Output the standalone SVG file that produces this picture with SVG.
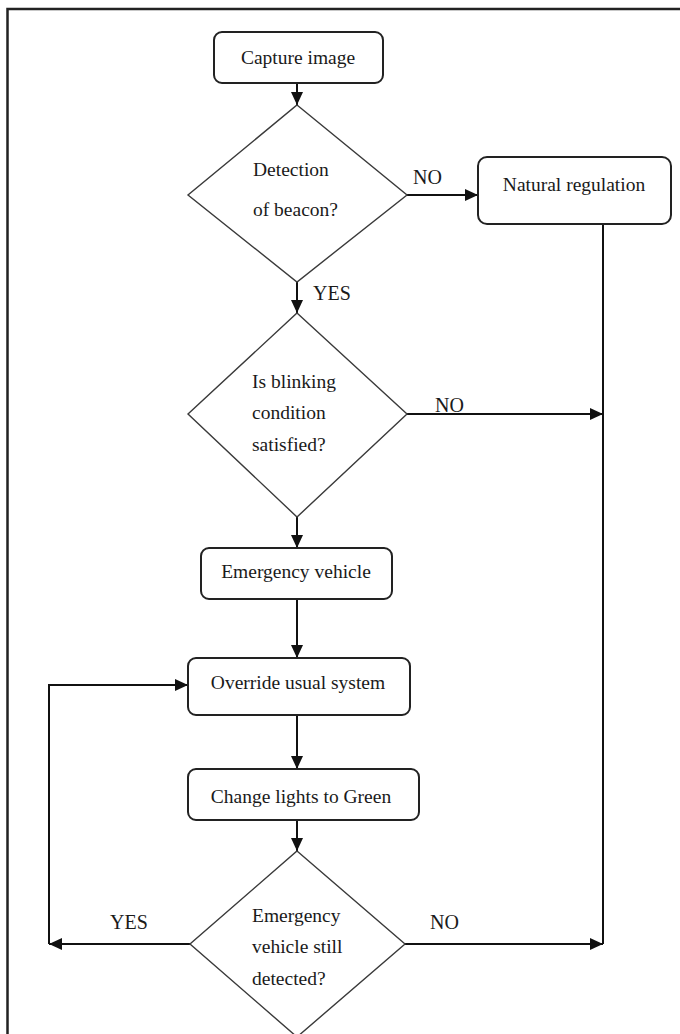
<svg xmlns="http://www.w3.org/2000/svg" width="680" height="1034" viewBox="0 0 680 1034">
<style>
  .box { fill: #ffffff; stroke: #222222; stroke-width: 2; }
  .dia { fill: #ffffff; stroke: #3a3a3a; stroke-width: 1.4; }
  .t { font-family: "Liberation Serif", "Times New Roman", serif; font-size: 19.5px; fill: #1a1a1a; }
  .c { text-anchor: middle; }
  .lbl { font-family: "Liberation Serif", "Times New Roman", serif; font-size: 20px; fill: #1a1a1a; }
  .con { fill: none; stroke: #111111; stroke-width: 2; }
  .frame { fill: none; stroke: #222222; stroke-width: 2.5; }
</style>
<defs>
  <marker id="arr" markerUnits="userSpaceOnUse" markerWidth="13" markerHeight="12" refX="13" refY="6" orient="auto">
    <path d="M0,0 L13,6 L0,12 z" fill="#111111"/>
  </marker>
</defs>
<rect x="0" y="0" width="680" height="1034" fill="#ffffff"/>
<path class="frame" d="M7.5,1034 V9 H680"/>

<g id="connectors">
  <path class="con" d="M297,83 V105" marker-end="url(#arr)"/>
  <path class="con" d="M407,195 H478" marker-end="url(#arr)"/>
  <path class="con" d="M297,282 V313" marker-end="url(#arr)"/>
  <path class="con" d="M603,224 V944"/>
  <path class="con" d="M407,414 H603" marker-end="url(#arr)"/>
  <path class="con" d="M297,517 V548" marker-end="url(#arr)"/>
  <path class="con" d="M297,599 V658" marker-end="url(#arr)"/>
  <path class="con" d="M297,715 V769" marker-end="url(#arr)"/>
  <path class="con" d="M297,820 V851" marker-end="url(#arr)"/>
  <path class="con" d="M190,944 H49" marker-end="url(#arr)"/>
  <path class="con" d="M49,944 V685 H188" marker-end="url(#arr)"/>
  <path class="con" d="M405,944 H603" marker-end="url(#arr)"/>
  <text class="lbl" x="413" y="184">NO</text>
  <text class="lbl" x="313" y="300">YES</text>
  <text class="lbl" x="435" y="412">NO</text>
  <text class="lbl" x="110" y="929">YES</text>
  <text class="lbl" x="430" y="929">NO</text>
</g>

<g id="capture">
  <rect class="box" x="214" y="32" width="169" height="51" rx="8"/>
  <text class="t c" x="298" y="64">Capture image</text>
</g>

<g id="detect">
  <polygon class="dia" points="297,105 407,195 297,282 188,195"/>
  <text class="t" x="253" y="176">Detection</text>
  <text class="t" x="253" y="216">of beacon?</text>
</g>

<g id="natural">
  <rect class="box" x="478" y="157" width="193" height="67" rx="9"/>
  <text class="t c" x="574" y="191">Natural regulation</text>
</g>

<g id="blink">
  <polygon class="dia" points="297,313 407,414 297,517 188,414"/>
  <text class="t" x="252" y="388">Is blinking</text>
  <text class="t" x="252" y="419">condition</text>
  <text class="t" x="252" y="451">satisfied?</text>
</g>

<g id="emergency">
  <rect class="box" x="201" y="548" width="191" height="51" rx="8"/>
  <text class="t c" x="296" y="578">Emergency vehicle</text>
</g>

<g id="override">
  <rect class="box" x="188" y="658" width="222" height="57" rx="8"/>
  <text class="t c" x="298" y="689">Override usual system</text>
</g>

<g id="change">
  <rect class="box" x="188" y="769" width="231" height="51" rx="8"/>
  <text class="t c" x="301" y="803">Change lights to Green</text>
</g>

<g id="still">
  <polygon class="dia" points="297,851 405,944 297,1037 190,944"/>
  <text class="t" x="252" y="922">Emergency</text>
  <text class="t" x="252" y="953">vehicle still</text>
  <text class="t" x="252" y="985">detected?</text>
</g>
</svg>
